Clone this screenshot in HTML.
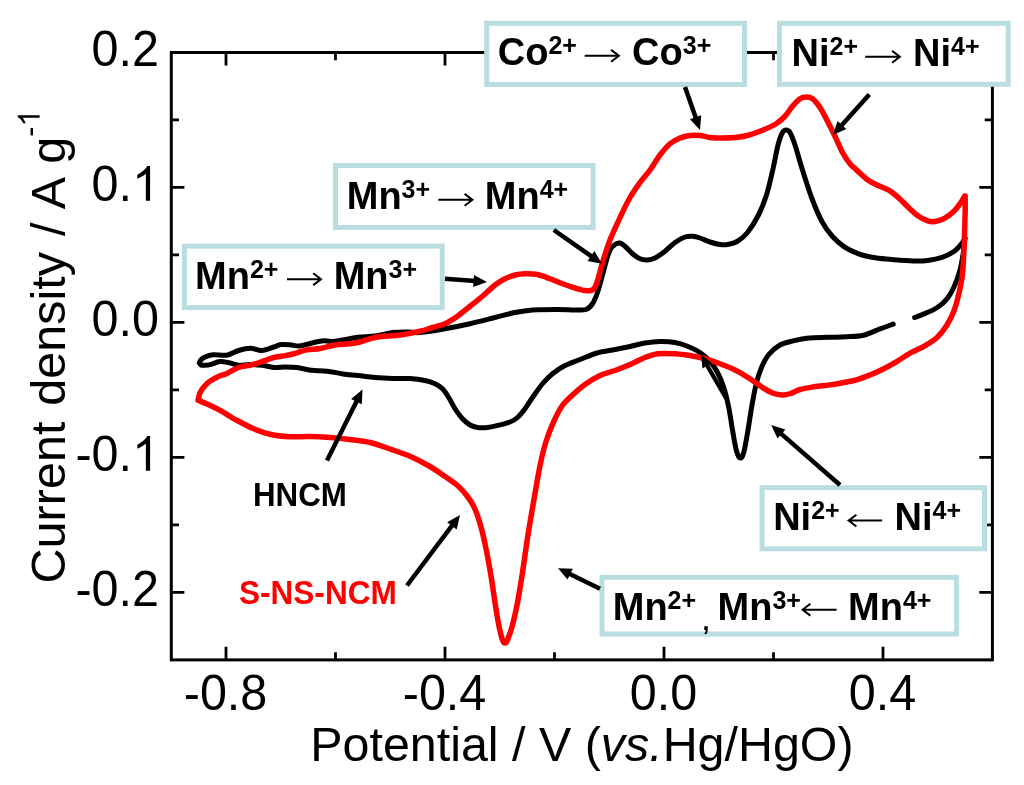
<!DOCTYPE html>
<html><head><meta charset="utf-8"><title>CV curves</title>
<style>html,body{margin:0;padding:0;background:#fff}svg{display:block;will-change:transform}body{font-family:"Liberation Sans",sans-serif}</style>
</head><body>
<svg width="1024" height="785" viewBox="0 0 1024 785" font-family="'Liberation Sans', sans-serif">
<rect width="1024" height="785" fill="#fff"/>
<rect x="171.3" y="52.5" width="821.1" height="607.4" fill="none" stroke="#000" stroke-width="3.0"/>
<path d="M226.0 659.9 v-13.1 M226.0 52.5 v13.1 M335.5 659.9 v-7.7 M335.5 52.5 v7.7 M445.0 659.9 v-13.1 M445.0 52.5 v13.1 M554.5 659.9 v-7.7 M554.5 52.5 v7.7 M664.0 659.9 v-13.1 M664.0 52.5 v13.1 M773.5 659.9 v-7.7 M773.5 52.5 v7.7 M883.0 659.9 v-13.1 M883.0 52.5 v13.1 M171.3 592.3 h13.1 M992.4 592.3 h-13.1 M171.3 524.9 h7.7 M992.4 524.9 h-7.7 M171.3 457.4 h13.1 M992.4 457.4 h-13.1 M171.3 389.9 h7.7 M992.4 389.9 h-7.7 M171.3 322.4 h13.1 M992.4 322.4 h-13.1 M171.3 254.9 h7.7 M992.4 254.9 h-7.7 M171.3 187.4 h13.1 M992.4 187.4 h-13.1 M171.3 119.9 h7.7 M992.4 119.9 h-7.7" stroke="#000" stroke-width="2.8" fill="none"/>
<text transform="translate(91.59 65.85) scale(1 1.042)" font-size="48.50" font-weight="normal" fill="#000" text-anchor="start" >0.2</text>
<text transform="translate(91.59 200.82) scale(1 1.042)" font-size="48.50" font-weight="normal" fill="#000" text-anchor="start" >0.</text>
<path transform="translate(132.03 200.82) scale(0.02368 -0.02368)" d="M763 0H583V1147Q518 1085 412.5 1023Q307 961 223 930V1104Q374 1175 487 1276Q600 1377 647 1472H763Z" fill="#000"/>
<text transform="translate(91.59 335.80) scale(1 1.042)" font-size="48.50" font-weight="normal" fill="#000" text-anchor="start" >0.0</text>
<text transform="translate(75.43 470.77) scale(1 1.042)" font-size="48.50" font-weight="normal" fill="#000" text-anchor="start" >-0.</text>
<path transform="translate(132.03 470.77) scale(0.02368 -0.02368)" d="M763 0H583V1147Q518 1085 412.5 1023Q307 961 223 930V1104Q374 1175 487 1276Q600 1377 647 1472H763Z" fill="#000"/>
<text transform="translate(75.43 605.75) scale(1 1.042)" font-size="48.50" font-weight="normal" fill="#000" text-anchor="start" >-0.2</text>
<text transform="translate(225.50 710.40) scale(1 1.042)" font-size="48.50" font-weight="normal" fill="#000" text-anchor="middle" >-0.8</text>
<text transform="translate(444.50 710.40) scale(1 1.042)" font-size="48.50" font-weight="normal" fill="#000" text-anchor="middle" >-0.4</text>
<text transform="translate(663.50 710.40) scale(1 1.042)" font-size="48.50" font-weight="normal" fill="#000" text-anchor="middle" >0.0</text>
<text transform="translate(882.50 710.40) scale(1 1.042)" font-size="48.50" font-weight="normal" fill="#000" text-anchor="middle" >0.4</text>
<text x="310.3" y="761.3" font-size="48.4">Potential / V (<tspan font-style="italic">vs.</tspan>Hg/HgO)</text>
<g transform="translate(65.2 583.5) rotate(-90)">
<text font-size="48.55" word-spacing="2.4">Current density / A g</text>
<text x="446.79" y="-25.6" font-size="30.5">-</text>
<path transform="translate(456.95 -25.60) scale(0.01489 -0.01489)" d="M763 0H583V1147Q518 1085 412.5 1023Q307 961 223 930V1104Q374 1175 487 1276Q600 1377 647 1472H763Z" fill="#000"/>
</g>
<g fill="none" stroke-linejoin="round" stroke-linecap="round">
<path d="M893.20 324.10 C891.00 324.90 884.97 327.03 880.00 328.90 C875.03 330.77 868.95 333.98 863.40 335.30 C857.85 336.62 852.65 336.47 846.70 336.80 C840.75 337.13 834.05 337.10 827.70 337.30 C821.35 337.50 814.17 337.45 808.60 338.00 C803.03 338.55 799.07 339.43 794.30 340.60 C789.53 341.77 784.25 342.68 780.00 345.00 C775.75 347.32 771.88 350.75 768.80 354.50 C765.72 358.25 763.58 362.67 761.50 367.50 C759.42 372.33 757.88 377.25 756.30 383.50 C754.72 389.75 753.38 397.25 752.00 405.00 C750.62 412.75 749.38 422.08 748.00 430.00 C746.62 437.92 745.08 447.83 743.75 452.50 C742.42 457.17 741.25 458.42 740.00 458.00 C738.75 457.58 737.50 454.67 736.25 450.00 C735.00 445.33 733.75 437.08 732.50 430.00 C731.25 422.92 730.21 414.58 728.75 407.50 C727.29 400.42 725.62 393.33 723.75 387.50 C721.88 381.67 719.79 376.88 717.50 372.50 C715.21 368.12 712.92 364.58 710.00 361.25 C707.08 357.92 703.75 355.00 700.00 352.50 C696.25 350.00 691.67 347.92 687.50 346.25 C683.33 344.58 679.58 343.29 675.00 342.50 C670.42 341.71 665.00 341.42 660.00 341.50 C655.00 341.58 650.00 342.17 645.00 343.00 C640.00 343.83 635.00 345.42 630.00 346.50 C625.00 347.58 620.50 348.42 615.00 349.50 C609.50 350.58 602.83 351.33 597.00 353.00 C591.17 354.67 585.33 357.42 580.00 359.50 C574.67 361.58 569.58 363.12 565.00 365.50 C560.42 367.88 556.25 370.71 552.50 373.75 C548.75 376.79 545.83 379.79 542.50 383.75 C539.17 387.71 535.42 393.33 532.50 397.50 C529.58 401.67 527.50 405.42 525.00 408.75 C522.50 412.08 520.00 415.29 517.50 417.50 C515.00 419.71 513.33 420.67 510.00 422.00 C506.67 423.33 501.25 424.58 497.50 425.50 C493.75 426.42 490.83 427.17 487.50 427.50 C484.17 427.83 480.42 427.92 477.50 427.50 C474.58 427.08 472.50 426.46 470.00 425.00 C467.50 423.54 465.00 421.46 462.50 418.75 C460.00 416.04 457.29 412.29 455.00 408.75 C452.71 405.21 450.83 400.83 448.75 397.50 C446.67 394.17 444.79 391.04 442.50 388.75 C440.21 386.46 437.92 385.12 435.00 383.75 C432.08 382.38 429.17 381.38 425.00 380.50 C420.83 379.62 415.42 378.83 410.00 378.50 C404.58 378.17 398.33 378.67 392.50 378.50 C386.67 378.33 380.75 378.00 375.00 377.50 C369.25 377.00 363.33 376.10 358.00 375.50 C352.67 374.90 348.17 374.62 343.00 373.90 C337.83 373.18 332.33 371.82 327.00 371.20 C321.67 370.58 315.97 370.80 311.00 370.20 C306.03 369.60 301.45 368.15 297.20 367.60 C292.95 367.05 289.40 366.92 285.50 366.90 C281.60 366.88 277.72 367.78 273.80 367.50 C269.88 367.22 265.92 365.68 262.00 365.20 C258.08 364.72 254.20 364.60 250.30 364.60 C246.40 364.60 242.12 365.50 238.60 365.20 C235.08 364.90 232.33 363.40 229.20 362.80 C226.07 362.20 222.92 361.30 219.80 361.60 C216.68 361.90 213.07 363.98 210.50 364.60 C207.93 365.22 206.02 365.25 204.40 365.30 C202.78 365.35 201.63 365.30 200.80 364.90 C199.97 364.50 199.63 363.23 199.40 362.90" stroke="#000" stroke-width="5.0"/>
<path d="M965.00 238.20 C964.75 240.42 964.35 246.12 963.50 251.50 C962.65 256.88 961.50 264.55 959.90 270.50 C958.30 276.45 956.08 282.43 953.90 287.20 C951.72 291.97 949.57 295.72 946.80 299.10 C944.03 302.48 940.88 305.12 937.30 307.50 C933.72 309.88 929.08 311.73 925.30 313.40 C921.52 315.07 916.38 316.82 914.60 317.50" stroke="#000" stroke-width="5.0"/>
<path d="M199.40 362.90 C199.65 362.42 200.10 360.92 200.90 360.00 C201.70 359.08 202.22 358.27 204.20 357.40 C206.18 356.53 209.02 355.17 212.80 354.80 C216.58 354.43 222.60 355.92 226.90 355.20 C231.20 354.48 234.70 351.67 238.60 350.50 C242.50 349.33 246.40 348.20 250.30 348.20 C254.20 348.20 258.08 350.70 262.00 350.50 C265.92 350.30 270.63 347.98 273.80 347.00 C276.97 346.02 278.30 344.97 281.00 344.60 C283.70 344.23 286.92 344.57 290.00 344.80 C293.08 345.03 295.96 346.27 299.50 346.00 C303.04 345.73 307.21 344.07 311.25 343.20 C315.29 342.33 320.11 341.07 323.75 340.80 C327.39 340.53 329.98 341.73 333.10 341.60 C336.23 341.47 338.35 340.73 342.50 340.00 C346.65 339.27 352.58 337.87 358.00 337.20 C363.42 336.53 369.25 336.78 375.00 336.00 C380.75 335.22 386.67 333.17 392.50 332.50 C398.33 331.83 405.42 332.00 410.00 332.00 C414.58 332.00 414.17 333.04 420.00 332.50 C425.83 331.96 436.67 330.21 445.00 328.75 C453.33 327.29 461.67 325.62 470.00 323.75 C478.33 321.88 487.50 319.38 495.00 317.50 C502.50 315.62 508.75 313.75 515.00 312.50 C521.25 311.25 525.42 310.50 532.50 310.00 C539.58 309.50 550.42 309.50 557.50 309.50 C564.58 309.50 570.25 310.00 575.00 310.00 C579.75 310.00 583.08 310.54 586.00 309.50 C588.92 308.46 590.58 306.58 592.50 303.75 C594.42 300.92 595.83 297.29 597.50 292.50 C599.17 287.71 601.08 280.08 602.50 275.00 C603.92 269.92 604.75 266.17 606.00 262.00 C607.25 257.83 608.50 252.92 610.00 250.00 C611.50 247.08 613.33 245.67 615.00 244.50 C616.67 243.33 618.33 242.71 620.00 243.00 C621.67 243.29 622.92 244.46 625.00 246.25 C627.08 248.04 630.00 251.67 632.50 253.75 C635.00 255.83 637.50 257.71 640.00 258.75 C642.50 259.79 645.00 260.12 647.50 260.00 C650.00 259.88 652.08 259.46 655.00 258.00 C657.92 256.54 661.67 253.83 665.00 251.25 C668.33 248.67 671.67 244.88 675.00 242.50 C678.33 240.12 682.08 238.04 685.00 237.00 C687.92 235.96 690.00 236.08 692.50 236.25 C695.00 236.42 697.08 237.04 700.00 238.00 C702.92 238.96 706.67 240.92 710.00 242.00 C713.33 243.08 717.08 244.08 720.00 244.50 C722.92 244.92 724.58 245.04 727.50 244.50 C730.42 243.96 734.17 243.25 737.50 241.25 C740.83 239.25 744.00 236.88 747.50 232.50 C751.00 228.12 755.33 221.25 758.50 215.00 C761.67 208.75 764.03 202.92 766.50 195.00 C768.97 187.08 771.38 175.83 773.30 167.50 C775.22 159.17 776.47 150.83 778.00 145.00 C779.53 139.17 781.12 135.00 782.50 132.50 C783.88 130.00 785.00 130.00 786.25 130.00 C787.50 130.00 788.54 130.00 790.00 132.50 C791.46 135.00 792.92 138.75 795.00 145.00 C797.08 151.25 799.58 160.83 802.50 170.00 C805.42 179.17 809.17 191.25 812.50 200.00 C815.83 208.75 819.17 216.42 822.50 222.50 C825.83 228.58 828.87 232.45 832.50 236.50 C836.13 240.55 839.95 243.92 844.30 246.80 C848.65 249.68 853.43 251.97 858.60 253.80 C863.77 255.63 869.33 256.80 875.30 257.80 C881.27 258.80 888.05 259.27 894.40 259.80 C900.75 260.33 907.85 260.88 913.40 261.00 C918.95 261.12 922.93 261.10 927.70 260.50 C932.47 259.90 937.63 258.90 942.00 257.40 C946.37 255.90 950.60 253.80 953.90 251.50 C957.20 249.20 959.95 245.82 961.80 243.60 C963.65 241.38 964.47 239.10 965.00 238.20" stroke="#000" stroke-width="5.0"/>
<path d="M965.10 196.00 C965.12 198.33 965.27 204.72 965.20 210.00 C965.13 215.28 964.92 220.78 964.70 227.70 C964.48 234.62 964.30 243.57 963.90 251.50 C963.50 259.43 963.17 268.15 962.30 275.30 C961.43 282.45 960.10 288.45 958.70 294.40 C957.30 300.35 955.88 305.85 953.90 311.00 C951.92 316.15 949.57 320.92 946.80 325.30 C944.03 329.68 940.88 333.92 937.30 337.30 C933.72 340.68 929.68 343.03 925.30 345.60 C920.92 348.17 915.77 350.03 911.00 352.70 C906.23 355.37 901.07 359.02 896.70 361.60 C892.33 364.18 889.25 365.97 884.80 368.20 C880.35 370.43 874.80 373.03 870.00 375.00 C865.20 376.97 861.42 378.54 856.00 380.00 C850.58 381.46 842.67 382.83 837.50 383.75 C832.33 384.67 829.17 384.96 825.00 385.50 C820.83 386.04 816.67 386.33 812.50 387.00 C808.33 387.67 803.75 388.38 800.00 389.50 C796.25 390.62 792.92 392.83 790.00 393.75 C787.08 394.67 785.42 395.12 782.50 395.00 C779.58 394.88 775.83 394.25 772.50 393.00 C769.17 391.75 766.25 389.88 762.50 387.50 C758.75 385.12 754.58 381.67 750.00 378.75 C745.42 375.83 740.00 372.50 735.00 370.00 C730.00 367.50 725.00 365.62 720.00 363.75 C715.00 361.88 710.00 360.12 705.00 358.75 C700.00 357.38 695.00 356.33 690.00 355.50 C685.00 354.67 680.42 354.04 675.00 353.75 C669.58 353.46 662.50 353.12 657.50 353.75 C652.50 354.38 649.58 355.71 645.00 357.50 C640.42 359.29 635.00 362.33 630.00 364.50 C625.00 366.67 620.00 368.67 615.00 370.50 C610.00 372.33 605.00 373.17 600.00 375.50 C595.00 377.83 589.67 381.17 585.00 384.50 C580.33 387.83 575.83 391.92 572.00 395.50 C568.17 399.08 565.00 401.75 562.00 406.00 C559.00 410.25 556.58 415.33 554.00 421.00 C551.42 426.67 548.63 433.50 546.50 440.00 C544.37 446.50 542.78 453.00 541.20 460.00 C539.62 467.00 538.45 474.00 537.00 482.00 C535.55 490.00 534.08 498.67 532.50 508.00 C530.92 517.33 529.17 527.25 527.50 538.00 C525.83 548.75 524.17 561.75 522.50 572.50 C520.83 583.25 519.17 593.75 517.50 602.50 C515.83 611.25 514.17 618.75 512.50 625.00 C510.83 631.25 508.75 637.00 507.50 640.00 C506.25 643.00 505.83 643.00 505.00 643.00 C504.17 643.00 503.54 643.00 502.50 640.00 C501.46 637.00 500.00 631.25 498.75 625.00 C497.50 618.75 496.25 610.42 495.00 602.50 C493.75 594.58 492.67 586.08 491.25 577.50 C489.83 568.92 488.21 559.42 486.50 551.00 C484.79 542.58 483.00 534.17 481.00 527.00 C479.00 519.83 476.75 513.08 474.50 508.00 C472.25 502.92 470.25 500.17 467.50 496.50 C464.75 492.83 461.75 489.33 458.00 486.00 C454.25 482.67 449.67 479.75 445.00 476.50 C440.33 473.25 435.83 469.88 430.00 466.50 C424.17 463.12 416.67 459.17 410.00 456.25 C403.33 453.33 396.67 451.29 390.00 449.00 C383.33 446.71 376.67 444.08 370.00 442.50 C363.33 440.92 356.67 440.33 350.00 439.50 C343.33 438.67 336.67 438.00 330.00 437.50 C323.33 437.00 316.67 436.63 310.00 436.50 C303.33 436.37 296.50 437.03 290.00 436.70 C283.50 436.37 277.17 435.87 271.00 434.50 C264.83 433.13 258.78 430.92 253.00 428.50 C247.22 426.08 240.07 421.97 236.30 420.00 C232.53 418.03 232.95 418.22 230.40 416.70 C227.85 415.18 224.52 412.85 221.00 410.90 C217.48 408.95 213.10 406.77 209.30 405.00 C205.50 403.23 200.05 401.08 198.20 400.30" stroke="#f00" stroke-width="5.5"/>
<path d="M198.20 400.30 C198.47 399.13 198.93 395.45 199.80 393.30 C200.67 391.15 201.82 389.35 203.40 387.40 C204.98 385.45 206.95 383.35 209.30 381.60 C211.65 379.85 214.57 378.27 217.50 376.90 C220.43 375.53 223.38 374.97 226.90 373.40 C230.42 371.83 234.70 368.87 238.60 367.50 C242.50 366.13 246.40 366.18 250.30 365.20 C254.20 364.22 258.08 362.88 262.00 361.60 C265.92 360.32 270.30 358.43 273.80 357.50 C277.30 356.57 279.80 356.58 283.00 356.00 C286.20 355.42 289.08 355.02 293.00 354.00 C296.92 352.98 302.00 350.82 306.50 349.90 C311.00 348.98 315.25 349.32 320.00 348.50 C324.75 347.68 330.00 345.78 335.00 345.00 C340.00 344.22 345.83 344.30 350.00 343.80 C354.17 343.30 355.83 343.05 360.00 342.00 C364.17 340.95 368.33 338.67 375.00 337.50 C381.67 336.33 392.50 336.04 400.00 335.00 C407.50 333.96 414.58 332.50 420.00 331.25 C425.42 330.00 428.33 328.75 432.50 327.50 C436.67 326.25 440.83 325.62 445.00 323.75 C449.17 321.88 453.33 319.17 457.50 316.25 C461.67 313.33 465.83 309.58 470.00 306.25 C474.17 302.92 478.33 299.79 482.50 296.25 C486.67 292.71 491.25 287.92 495.00 285.00 C498.75 282.08 501.67 280.42 505.00 278.75 C508.33 277.08 511.67 275.83 515.00 275.00 C518.33 274.17 521.25 273.83 525.00 273.75 C528.75 273.67 533.33 273.67 537.50 274.50 C541.67 275.33 545.83 277.21 550.00 278.75 C554.17 280.29 558.33 282.21 562.50 283.75 C566.67 285.29 571.25 286.88 575.00 288.00 C578.75 289.12 582.08 290.17 585.00 290.50 C587.92 290.83 590.67 290.92 592.50 290.00 C594.33 289.08 594.83 287.75 596.00 285.00 C597.17 282.25 598.42 277.25 599.50 273.50 C600.58 269.75 600.75 268.08 602.50 262.50 C604.25 256.92 607.08 247.50 610.00 240.00 C612.92 232.50 616.67 224.58 620.00 217.50 C623.33 210.42 626.67 203.33 630.00 197.50 C633.33 191.67 636.67 187.08 640.00 182.50 C643.33 177.92 646.67 174.58 650.00 170.00 C653.33 165.42 656.67 159.38 660.00 155.00 C663.33 150.62 666.67 146.58 670.00 143.75 C673.33 140.92 676.67 139.38 680.00 138.00 C683.33 136.62 686.67 135.92 690.00 135.50 C693.33 135.08 696.67 135.17 700.00 135.50 C703.33 135.83 706.25 137.08 710.00 137.50 C713.75 137.92 718.33 138.00 722.50 138.00 C726.67 138.00 730.83 137.92 735.00 137.50 C739.17 137.08 743.33 136.54 747.50 135.50 C751.67 134.46 755.42 133.08 760.00 131.25 C764.58 129.42 770.83 127.00 775.00 124.50 C779.17 122.00 782.08 119.29 785.00 116.25 C787.92 113.21 790.00 109.17 792.50 106.25 C795.00 103.33 797.71 100.29 800.00 98.75 C802.29 97.21 804.17 97.00 806.25 97.00 C808.33 97.00 810.21 97.00 812.50 98.75 C814.79 100.50 817.50 103.75 820.00 107.50 C822.50 111.25 825.00 116.46 827.50 121.25 C830.00 126.04 832.50 131.04 835.00 136.25 C837.50 141.46 840.00 147.92 842.50 152.50 C845.00 157.08 847.72 160.90 850.00 163.75 C852.28 166.60 853.17 166.84 856.20 169.60 C859.23 172.36 864.23 177.52 868.20 180.30 C872.17 183.08 876.43 184.58 880.00 186.30 C883.57 188.02 886.43 188.62 889.60 190.60 C892.77 192.58 895.82 195.35 899.00 198.20 C902.18 201.05 905.50 204.73 908.70 207.70 C911.90 210.67 915.03 213.82 918.20 216.00 C921.37 218.18 924.92 219.88 927.70 220.80 C930.48 221.72 932.12 221.90 934.90 221.50 C937.68 221.10 941.23 220.10 944.40 218.40 C947.57 216.70 951.13 213.98 953.90 211.30 C956.67 208.62 959.22 204.80 961.00 202.30 C962.78 199.80 964.00 197.30 964.60 196.30" stroke="#f00" stroke-width="5.5"/>
</g>
<line x1="726.2" y1="398.5" x2="706.2" y2="363.9" stroke="#000" stroke-width="4.2"/>
<polygon points="701.0,354.8 712.0,362.9 702.5,368.4" fill="#000"/>
<rect x="486.7" y="23.3" width="257.8" height="61.2" fill="#fff" stroke="#b9dde1" stroke-width="5.0"/>
<rect x="779.5" y="23.3" width="228.6" height="61.0" fill="#fff" stroke="#b9dde1" stroke-width="5.0"/>
<rect x="335.5" y="165.5" width="257.6" height="61.9" fill="#fff" stroke="#b9dde1" stroke-width="5.0"/>
<rect x="184.4" y="246.1" width="257.8" height="61.5" fill="#fff" stroke="#b9dde1" stroke-width="5.0"/>
<rect x="762.1" y="487.7" width="222.4" height="61.1" fill="#fff" stroke="#b9dde1" stroke-width="5.0"/>
<rect x="602.0" y="577.3" width="354.4" height="56.7" fill="#fff" stroke="#b9dde1" stroke-width="5.0"/>
<text transform="translate(497.78 65.40) scale(1 1.042)" font-size="38.00" font-weight="bold" fill="#000" text-anchor="start" >Co</text>
<text transform="translate(548.43 54.40) scale(1 1.042)" font-size="25.00" font-weight="bold" fill="#000" text-anchor="start" >2+</text>
<path d="M584.7 55.8 H618.5 M611.1 49.9 L618.9 55.8 L611.1 61.7" fill="none" stroke="#000" stroke-width="2.0" stroke-linejoin="miter"/>
<text transform="translate(632.08 65.40) scale(1 1.042)" font-size="38.00" font-weight="bold" fill="#000" text-anchor="start" >Co</text>
<text transform="translate(682.73 54.40) scale(1 1.042)" font-size="25.00" font-weight="bold" fill="#000" text-anchor="start" >3+</text>
<text transform="translate(791.53 65.60) scale(1 1.042)" font-size="38.00" font-weight="bold" fill="#000" text-anchor="start" >Ni</text>
<text transform="translate(829.53 54.60) scale(1 1.042)" font-size="25.00" font-weight="bold" fill="#000" text-anchor="start" >2+</text>
<path d="M865.2 56.8 H899.5 M892.1 50.9 L899.9 56.8 L892.1 62.7" fill="none" stroke="#000" stroke-width="2.0" stroke-linejoin="miter"/>
<text transform="translate(913.03 65.60) scale(1 1.042)" font-size="38.00" font-weight="bold" fill="#000" text-anchor="start" >Ni</text>
<text transform="translate(951.03 54.60) scale(1 1.042)" font-size="25.00" font-weight="bold" fill="#000" text-anchor="start" >4+</text>
<text transform="translate(346.73 208.80) scale(1 1.042)" font-size="38.00" font-weight="bold" fill="#000" text-anchor="start" >Mn</text>
<text transform="translate(401.60 197.80) scale(1 1.042)" font-size="25.00" font-weight="bold" fill="#000" text-anchor="start" >3+</text>
<path d="M438.4 199.8 H472.0 M464.6 193.9 L472.4 199.8 L464.6 205.7" fill="none" stroke="#000" stroke-width="2.0" stroke-linejoin="miter"/>
<text transform="translate(484.83 208.80) scale(1 1.042)" font-size="38.00" font-weight="bold" fill="#000" text-anchor="start" >Mn</text>
<text transform="translate(539.70 197.80) scale(1 1.042)" font-size="25.00" font-weight="bold" fill="#000" text-anchor="start" >4+</text>
<text transform="translate(195.03 288.80) scale(1 1.042)" font-size="38.00" font-weight="bold" fill="#000" text-anchor="start" >Mn</text>
<text transform="translate(249.90 277.80) scale(1 1.042)" font-size="25.00" font-weight="bold" fill="#000" text-anchor="start" >2+</text>
<path d="M287.0 279.2 H320.6 M313.2 273.3 L321.0 279.2 L313.2 285.1" fill="none" stroke="#000" stroke-width="2.0" stroke-linejoin="miter"/>
<text transform="translate(333.63 288.80) scale(1 1.042)" font-size="38.00" font-weight="bold" fill="#000" text-anchor="start" >Mn</text>
<text transform="translate(388.50 277.80) scale(1 1.042)" font-size="25.00" font-weight="bold" fill="#000" text-anchor="start" >3+</text>
<text transform="translate(773.13 530.20) scale(1 1.042)" font-size="38.00" font-weight="bold" fill="#000" text-anchor="start" >Ni</text>
<text transform="translate(811.13 519.20) scale(1 1.042)" font-size="25.00" font-weight="bold" fill="#000" text-anchor="start" >2+</text>
<path d="M882.2 520.6 H849.0 M856.4 514.7 L848.6 520.6 L856.4 526.5" fill="none" stroke="#000" stroke-width="2.0" stroke-linejoin="miter"/>
<text transform="translate(894.53 530.20) scale(1 1.042)" font-size="38.00" font-weight="bold" fill="#000" text-anchor="start" >Ni</text>
<text transform="translate(932.53 519.20) scale(1 1.042)" font-size="25.00" font-weight="bold" fill="#000" text-anchor="start" >4+</text>
<text transform="translate(612.73 619.50) scale(1 1.042)" font-size="38.00" font-weight="bold" fill="#000" text-anchor="start" >Mn</text>
<text transform="translate(667.60 608.50) scale(1 1.042)" font-size="25.00" font-weight="bold" fill="#000" text-anchor="start" >2+</text>
<text transform="translate(702.60 629.60) scale(1 1.042)" font-size="25.00" font-weight="bold" fill="#000" text-anchor="start" >,</text>
<text transform="translate(717.53 619.50) scale(1 1.042)" font-size="38.00" font-weight="bold" fill="#000" text-anchor="start" >Mn</text>
<text transform="translate(772.40 608.50) scale(1 1.042)" font-size="25.00" font-weight="bold" fill="#000" text-anchor="start" >3+</text>
<path d="M836.6 609.7 H803.0 M810.4 603.8 L802.6 609.7 L810.4 615.6" fill="none" stroke="#000" stroke-width="2.0" stroke-linejoin="miter"/>
<text transform="translate(848.03 619.50) scale(1 1.042)" font-size="38.00" font-weight="bold" fill="#000" text-anchor="start" >Mn</text>
<text transform="translate(902.90 608.50) scale(1 1.042)" font-size="25.00" font-weight="bold" fill="#000" text-anchor="start" >4+</text>
<text transform="translate(253.00 505.70) scale(1 1.042)" font-size="31.30" font-weight="bold" fill="#000" text-anchor="start" >HNCM</text>
<text transform="translate(238.90 604.00) scale(1 1.030)" font-size="31.60" font-weight="bold" fill="#f00" text-anchor="start" >S-NS-NCM</text>
<line x1="445.0" y1="278.8" x2="475.5" y2="281.1" stroke="#000" stroke-width="4.5"/>
<polygon points="487.0,282.0 473.1,286.9 474.0,275.0" fill="#000"/>
<line x1="553.8" y1="230.0" x2="592.6" y2="257.2" stroke="#000" stroke-width="4.5"/>
<polygon points="602.0,263.8 587.5,260.9 594.4,251.1" fill="#000"/>
<line x1="685.0" y1="87.0" x2="696.2" y2="119.1" stroke="#000" stroke-width="4.5"/>
<polygon points="700.0,130.0 689.9,119.2 701.2,115.3" fill="#000"/>
<line x1="869.3" y1="94.5" x2="840.6" y2="126.4" stroke="#000" stroke-width="4.5"/>
<polygon points="832.9,135.0 837.5,120.9 846.4,129.0" fill="#000"/>
<line x1="327.0" y1="460.5" x2="357.4" y2="399.8" stroke="#000" stroke-width="4.5"/>
<polygon points="362.5,389.5 361.8,404.3 351.1,398.9" fill="#000"/>
<line x1="407.0" y1="585.5" x2="453.1" y2="524.2" stroke="#000" stroke-width="4.5"/>
<polygon points="460.0,515.0 456.7,529.4 447.1,522.2" fill="#000"/>
<line x1="840.0" y1="485.0" x2="779.9" y2="432.6" stroke="#000" stroke-width="4.5"/>
<polygon points="771.2,425.0 785.4,429.4 777.5,438.4" fill="#000"/>
<line x1="600.0" y1="588.8" x2="568.3" y2="573.3" stroke="#000" stroke-width="4.5"/>
<polygon points="558.0,568.2 572.8,568.8 567.5,579.6" fill="#000"/>
</svg>
</body></html>
